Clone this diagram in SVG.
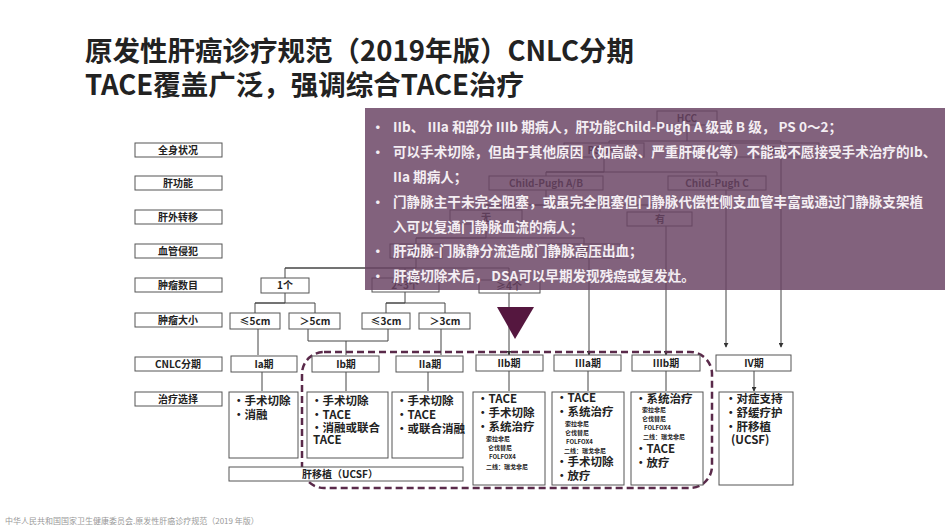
<svg xmlns="http://www.w3.org/2000/svg" width="950" height="525" viewBox="0 0 950 525">
<style>
.t{font-family:"Noto Sans CJK SC","Liberation Sans",sans-serif;font-weight:bold;fill:#222}
.b{fill:#fff;stroke:#555;stroke-width:1}
.l{font-size:10px;text-anchor:middle}
.m{font-size:11.5px}
.s{font-size:6px}
.ln{stroke:#444;stroke-width:1;fill:none}
.ov{font-family:"Noto Sans CJK SC","Liberation Sans",sans-serif;font-weight:bold;font-size:13.6px;fill:#f4eef3}
</style>
<defs><marker id="a" viewBox="0 0 6 6" refX="5" refY="3" markerWidth="5" markerHeight="5" orient="auto"><path d="M0,0L6,3L0,6z" fill="#333"/></marker></defs>
<rect width="950" height="525" fill="#fff"/>
<text class="t" x="85" y="61" font-size="27.5">原发性肝癌诊疗规范（2019年版）CNLC分期</text>
<text class="t" x="85" y="95" font-size="27.5">TACE覆盖广泛，强调综合TACE治疗</text>
<g id="labels">
<rect class="b" x="135" y="143" width="87" height="14"/><text class="t l" x="178" y="154">全身状况</text>
<rect class="b" x="135" y="176" width="87" height="14"/><text class="t l" x="178" y="187">肝功能</text>
<rect class="b" x="135" y="210" width="87" height="14"/><text class="t l" x="178" y="221">肝外转移</text>
<rect class="b" x="135" y="244" width="87" height="14"/><text class="t l" x="178" y="255">血管侵犯</text>
<rect class="b" x="135" y="278" width="87" height="14"/><text class="t l" x="178" y="289">肿瘤数目</text>
<rect class="b" x="135" y="313" width="87" height="14"/><text class="t l" x="178" y="324">肿瘤大小</text>
<rect class="b" x="135" y="357" width="87" height="14"/><text class="t l" x="178" y="368">CNLC分期</text>
<rect class="b" x="135" y="392" width="87" height="14"/><text class="t l" x="178" y="403">治疗选择</text>
</g>
<g id="connectors">
<path class="ln" d="M687,125V141M609,141H781M609,141V143M781,141V143"/>
<path class="ln" d="M604,157V172H546M546,172H717M546,172V176M717,172V176"/>
<path class="ln" d="M546,190V205H486M486,205H660M486,205V210M660,205V212"/>
<path class="ln" d="M486,224V238H416M416,238H584M416,238V244M584,238V244"/>
<path class="ln" d="M416,258V268H285M285,268H509M285,268V278M405,268V278M509,268V280"/>
<path class="ln" d="M285,293V303H255M255,303H315M255,303V313M315,303V313"/>
<path class="ln" d="M405,292V303H386M386,303H445M386,303V313M445,303V313"/>
<path class="ln" d="M258,329V355"/>
<path class="ln" d="M308,329V341H388V329M346,341V355"/>
<path class="ln" d="M441,329V355"/>
<path class="ln" d="M509,293V355" marker-end="url(#a)"/>
<path class="ln" d="M589,258V355" marker-end="url(#a)"/>
<path class="ln" d="M666,226V355" marker-end="url(#a)"/>
<path class="ln" d="M726,190V347" marker-end="url(#a)"/>
<path class="ln" d="M781,157V347" marker-end="url(#a)"/>
<path class="ln" d="M262,372V391M346,372V391M428,372V391M509,371V391M588,371V391M666,371V391M754,371V391" marker-end="url(#a)"/>
<rect x="302" y="352" width="410" height="136" rx="22" fill="none" stroke="#5a2a4a" stroke-width="2.5" stroke-dasharray="7,4"/>
<polygon points="497,307 534,307 515,339" fill="#55173f"/>
</g>
<g id="top">
<rect class="b" x="657" y="111" width="60" height="14"/><text class="t l" x="687" y="122">HCC</text>
<rect class="b" x="564" y="143" width="80" height="14"/><text class="t l" x="604" y="154">PS 0~2</text>
<rect class="b" x="730" y="143" width="89" height="14"/><text class="t l" x="775" y="154">PS&gt;2</text>
<rect class="b" x="489" y="176" width="114" height="14"/><text class="t l" x="546" y="187">Child-Pugh A/B</text>
<rect class="b" x="668" y="176" width="98" height="14"/><text class="t l" x="717" y="187">Child-Pugh C</text>
<rect class="b" x="450" y="210" width="72" height="14"/><text class="t l" x="486" y="221">无</text>
<rect class="b" x="627" y="212" width="65" height="14"/><text class="t l" x="660" y="223">有</text>
<rect class="b" x="390" y="244" width="52" height="14"/><text class="t l" x="416" y="255">无</text>
<rect class="b" x="548" y="244" width="72" height="14"/><text class="t l" x="584" y="255">有</text>
<rect class="b" x="261" y="278" width="48" height="15"/><text class="t l" x="285" y="289">1个</text>
<rect class="b" x="372" y="278" width="67" height="14"/><text class="t l" x="405" y="289">2~3个</text>
<rect class="b" x="479" y="280" width="61" height="13"/><text class="t l" x="509" y="290">≥4个</text>
</g>
<g id="sizes">
<rect class="b" x="230" y="313" width="50" height="16"/><text class="t l" x="255" y="325">≤5cm</text>
<rect class="b" x="289" y="313" width="51" height="16"/><text class="t l" x="315" y="325">＞5cm</text>
<rect class="b" x="362" y="313" width="48" height="16"/><text class="t l" x="386" y="325">≤3cm</text>
<rect class="b" x="419" y="313" width="51" height="16"/><text class="t l" x="445" y="325">＞3cm</text>
</g>
<g id="stages">
<rect class="b" x="231" y="356" width="66" height="16"/><text class="t l" x="264" y="368">Ia期</text>
<rect class="b" x="312" y="356" width="67" height="16"/><text class="t l" x="346" y="368">Ib期</text>
<rect class="b" x="396" y="356" width="67" height="16"/><text class="t l" x="430" y="368">IIa期</text>
<rect class="b" x="476" y="355" width="67" height="16"/><text class="t l" x="509" y="367">IIb期</text>
<rect class="b" x="554" y="355" width="67" height="16"/><text class="t l" x="588" y="367">IIIa期</text>
<rect class="b" x="632" y="355" width="68" height="16"/><text class="t l" x="666" y="367">IIIb期</text>
<rect class="b" x="716" y="355" width="75" height="16"/><text class="t l" x="754" y="367">IV期</text>
</g>
<g id="treat">
<rect class="b" x="229" y="392" width="69" height="66"/>
<text class="t m" x="233" y="405">·手术切除</text><text class="t m" x="233" y="419">·消融</text>
<rect class="b" x="307" y="392" width="81" height="66"/>
<text class="t m" x="311" y="405">·手术切除</text><text class="t m" x="311" y="419">·TACE</text><text class="t m" x="311" y="432">·消融或联合</text><text class="t m" x="313" y="444">TACE</text>
<rect class="b" x="392" y="392" width="71" height="66"/>
<text class="t m" x="396" y="405">·手术切除</text><text class="t m" x="396" y="419">·TACE</text><text class="t m" x="396" y="433">·或联合消融</text>
<rect class="b" x="229" y="467" width="234" height="14"/><text class="t l" x="340" y="478">肝移植（UCSF）</text>
<rect class="b" x="473" y="392" width="72" height="93"/>
<text class="t m" x="477" y="403">·TACE</text><text class="t m" x="477" y="417">·手术切除</text><text class="t m" x="477" y="431">·系统治疗</text>
<text class="t s" x="486" y="441">索拉非尼</text><text class="t s" x="488" y="450">仑伐替尼</text><text class="t s" x="489" y="459">FOLFOX4</text><text class="t s" x="486" y="469">二线：瑞戈非尼</text>
<rect class="b" x="552" y="392" width="72" height="93"/>
<text class="t m" x="556" y="402">·TACE</text><text class="t m" x="556" y="416">·系统治疗</text>
<text class="t s" x="565" y="426">索拉非尼</text><text class="t s" x="565" y="435">仑伐替尼</text><text class="t s" x="566" y="444">FOLFOX4</text><text class="t s" x="564" y="453">二线：瑞戈非尼</text>
<text class="t m" x="556" y="466">·手术切除</text><text class="t m" x="556" y="480">·放疗</text>
<rect class="b" x="631" y="392" width="72" height="93"/>
<text class="t m" x="635" y="403">·系统治疗</text>
<text class="t s" x="642" y="412">索拉非尼</text><text class="t s" x="642" y="421">仑伐替尼</text><text class="t s" x="644" y="430">FOLFOX4</text><text class="t s" x="643" y="439">二线：瑞戈非尼</text>
<text class="t m" x="635" y="453">·TACE</text><text class="t m" x="635" y="467">·放疗</text>
<rect class="b" x="719" y="392" width="74" height="93"/>
<text class="t m" x="725" y="403">·对症支持</text><text class="t m" x="725" y="417">·舒缓疗护</text><text class="t m" x="725" y="431">·肝移植</text><text class="t m" x="731" y="444">(UCSF)</text>
</g>
<g id="overlay">
<rect x="365" y="108" width="580" height="182" fill="#6a4464" opacity="0.84"/>
<g class="ov">
<text x="371" y="132">•</text><text x="393" y="132">IIb、 IIIa 和部分 IIIb 期病人，肝功能Child-Pugh A 级或 B 级， PS  0～2；</text>
<text x="371" y="157">•</text><text x="393" y="157">可以手术切除，但由于其他原因（如高龄、严重肝硬化等）不能或不愿接受手术治疗的Ib、</text>
<text x="393" y="182">IIa 期病人；</text>
<text x="371" y="207">•</text><text x="393" y="207">门静脉主干未完全阻塞，或虽完全阻塞但门静脉代偿性侧支血管丰富或通过门静脉支架植</text>
<text x="393" y="232">入可以复通门静脉血流的病人；</text>
<text x="371" y="256">•</text><text x="393" y="256">肝动脉-门脉静分流造成门静脉高压出血；</text>
<text x="371" y="281">•</text><text x="393" y="281">肝癌切除术后， DSA可以早期发现残癌或复发灶。</text>
</g>
</g>
<text x="5" y="524" font-family="Noto Sans CJK SC,sans-serif" font-size="8" fill="#999">中华人民共和国国家卫生健康委员会.原发性肝癌诊疗规范（2019 年版）</text>
</svg>
